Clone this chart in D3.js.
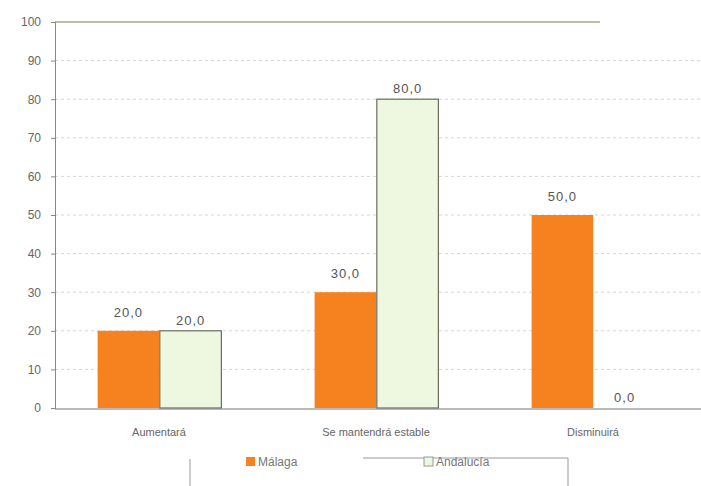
<!DOCTYPE html>
<html><head><meta charset="utf-8">
<script src="https://cdn.jsdelivr.net/npm/d3@7/dist/d3.min.js"></script>
<style>body{margin:0;background:#fff}svg{display:block;font-family:"Liberation Sans",Arial,sans-serif}</style>
</head><body><svg id="c" width="701" height="486"></svg>
<script>
const categories = ["Aumentará", "Se mantendrá estable", "Disminuirá"];
const seriesNames = ["Málaga", "Andalucía"];
const malaga = [20, 30, 50];
const andalucia = [20, 80, 0];
const yTicks = [0, 10, 20, 30, 40, 50, 60, 70, 80, 90, 100];
const colors = ["#f5821f", "#eef8e0"];

const svg = d3.select("#c");
const m = {l: 55, r: 0, t: 22, b: 78};
const W = 701, H = 486;
const x = d3.scaleBand().domain(categories).range([m.l - 1, m.l - 1 + 651]).paddingInner(0).paddingOuter(0);
const x1 = d3.scaleBand().domain(seriesNames).range([0, 125]).padding(0.01);
const y = d3.scaleLinear().domain([0, 100]).range([H - m.b, m.t]);

// gridlines
svg.append("g").selectAll("line").data(yTicks.filter(d => d > 0 && d < 100)).join("line")
  .attr("x1", m.l).attr("x2", W).attr("y1", d => y(d)).attr("y2", d => y(d))
  .attr("stroke", "#d6d6d6").attr("stroke-dasharray", "3,3").attr("stroke-width", 1);
// top line
svg.append("line").attr("x1", m.l).attr("x2", 600).attr("y1", y(100)).attr("y2", y(100))
  .attr("stroke", "#a9a98a").attr("stroke-width", 1.5);

// y axis
const ya = svg.append("g").attr("transform", `translate(${m.l},0)`)
  .call(d3.axisLeft(y).tickValues(yTicks).tickSize(4).tickPadding(10));
ya.select(".domain").attr("stroke", "#888");
ya.selectAll(".tick line").attr("stroke", "#888");
ya.selectAll("text").attr("fill", "#666").attr("font-size", 12);

const data = categories.map((c, i) => ({c, vals: [malaga[i], andalucia[i]]}));
const offset = (x.bandwidth() - 125) / 2 - 3;
const g = svg.append("g").selectAll("g").data(data).join("g")
  .attr("transform", d => `translate(${x(d.c) + offset},0)`);
g.selectAll("rect").data(d => d.vals.map((v, j) => ({v, s: seriesNames[j], j}))).join("rect")
  .attr("x", d => x1(d.s)).attr("width", x1.bandwidth())
  .attr("y", d => y(d.v)).attr("height", d => y(0) - y(d.v))
  .attr("fill", d => colors[d.j])
  .attr("stroke", d => d.j === 1 && d.v > 0 ? "#6b6b5e" : "none").attr("stroke-width", 1.2);
g.selectAll("text").data(d => d.vals.map((v, j) => ({v, s: seriesNames[j], j}))).join("text")
  .attr("x", d => x1(d.s) + x1.bandwidth() / 2).attr("y", d => y(d.v) - (d.j === 1 ? 6 : 14))
  .attr("text-anchor", "middle").attr("font-size", 13).attr("fill", "#555")
  .attr("letter-spacing", 1)
  .text(d => d3.format(".1f")(d.v).replace(".", ","));

// x axis
svg.append("line").attr("x1", m.l).attr("x2", W).attr("y1", y(0) + 1).attr("y2", y(0) + 1)
  .attr("stroke", "#777").attr("stroke-width", 1.2);
svg.append("g").selectAll("text").data(categories).join("text")
  .attr("x", d => x(d) + offset + 62).attr("y", y(0) + 28)
  .attr("text-anchor", "middle").attr("font-size", 11).attr("fill", "#666").text(d => d);

// legend
const lg = svg.append("g");
lg.append("path").attr("d", "M190,459 V486 M363,458 H568 V486")
  .attr("fill", "none").attr("stroke", "#999").attr("stroke-width", 1);
const li = lg.selectAll("g").data(seriesNames).join("g")
  .attr("transform", (d, i) => `translate(${i === 0 ? 246 : 424},465)`);
li.append("rect").attr("width", 9).attr("height", 9).attr("y", -8)
  .attr("fill", (d, i) => colors[i]).attr("stroke", (d, i) => i === 1 ? "#999" : "none");
li.append("text").attr("x", 12).attr("y", 1).attr("font-size", 12).attr("fill", "#777").text(d => d);
</script></body></html>
